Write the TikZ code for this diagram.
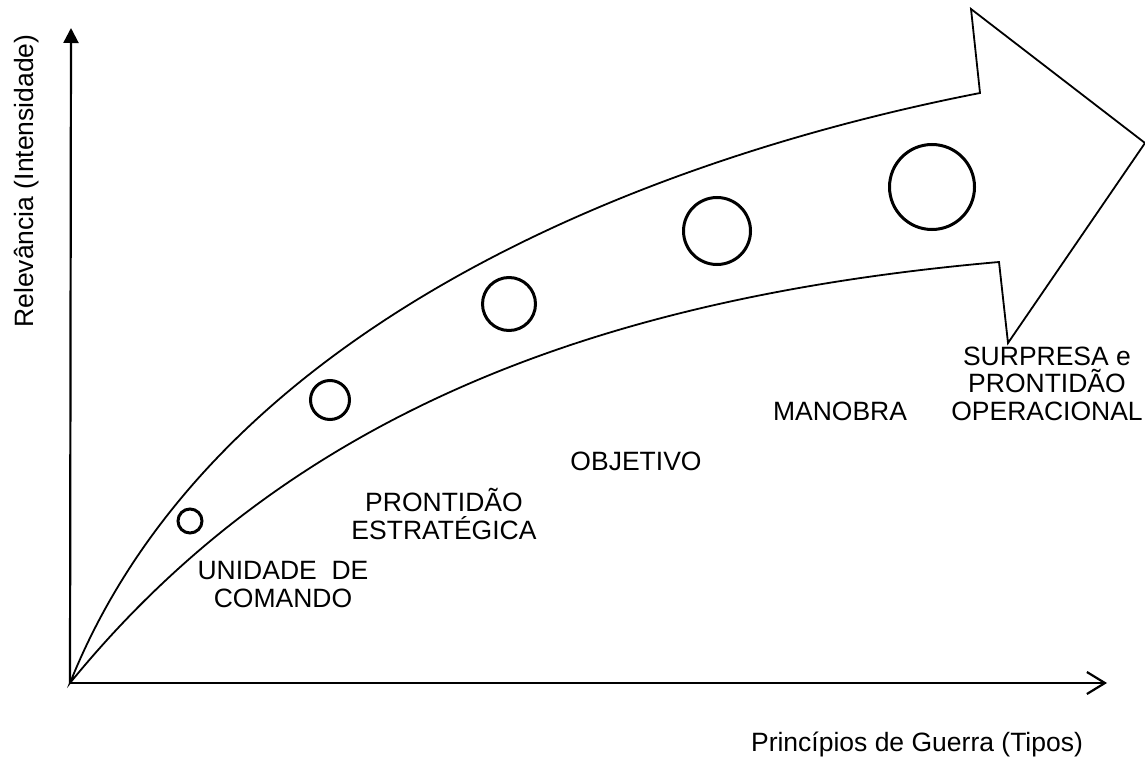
\documentclass[tikz,border=0pt]{standalone}
\usepackage{fontspec}
\setmainfont{Liberation Sans}
\usetikzlibrary{arrows.meta}
\begin{document}
\begin{tikzpicture}[x=1pt,y=-1pt,
  axisline/.style={line width=2.2pt},
  bigarrow/.style={line width=1.8pt, line join=miter},
  dot/.style={circle, draw, line width=3pt, inner sep=0pt},
  lbl/.style={font=\fontsize{26.5}{27.5}\selectfont, align=center, inner sep=0pt},
  axlbl/.style={font=\fontsize{26.5}{29}\selectfont, inner sep=0pt}]
\useasboundingbox (0,0) rectangle (1145,757);
% coordinates
\coordinate (O) at (70,683);
\coordinate (ytop) at (71,28);
\coordinate (xend) at (1107,683);
% big curved arrow
\draw[bigarrow] (O) .. controls (211,330) and (637,160) .. (980,93)
  -- (971,9) -- (1145,143) -- (1008,343) -- (999,262)
  .. controls (600,297) and (290,413) .. (O) -- cycle;
% axes
\draw[axisline, -{Triangle[width=15pt,length=15pt]}] (O) -- (ytop);
\draw[axisline, -{Straight Barb[width=22pt,length=18pt,line width=2.2pt]}] (O) -- (xend);
% circles
\node[dot, minimum size=24pt] (c1) at (190,521) {};
\node[dot, minimum size=39pt] (c2) at (330,400) {};
\node[dot, minimum size=53pt] (c3) at (509,304) {};
\node[dot, minimum size=67pt] (c4) at (717,231) {};
\node[dot, minimum size=85pt] (c5) at (932,187) {};
% labels
\node[lbl, anchor=base] (l1) at (283,607) {UNIDADE\ \ DE\\COMANDO};
\node[lbl, anchor=base] (l2) at (444,539) {PRONTIDÃO\\ESTRATÉGICA};
\node[lbl, anchor=base] (l3) at (636,470) {OBJETIVO};
\node[lbl, anchor=base] (l4) at (840,420) {MANOBRA};
\node[lbl, anchor=base] (l5) at (1047,420) {SURPRESA e\\PRONTIDÃO\\OPERACIONAL};
\node[axlbl, anchor=base] (xl) at (917,751) {Princípios de Guerra (Tipos)};
\node[axlbl, anchor=base, rotate=90] (yl) at (33,181) {Relevância (Intensidade)};
\end{tikzpicture}
\end{document}
